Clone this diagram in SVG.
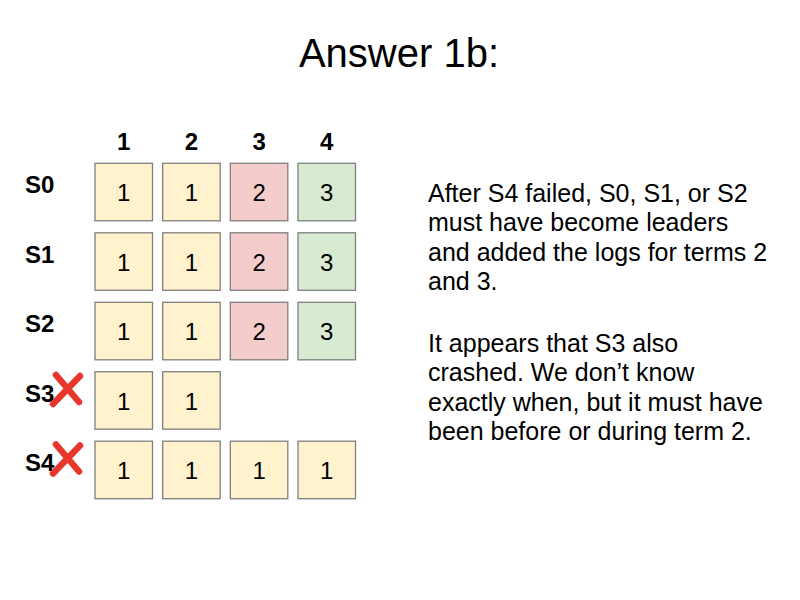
<svg xmlns="http://www.w3.org/2000/svg" width="800" height="600" viewBox="0 0 800 600">
<style>
text { font-family: "Liberation Sans", Arial, sans-serif; fill: #000; }
.title { font-size: 40px; text-anchor: middle; }
.hdr { font-size: 24px; font-weight: bold; text-anchor: middle; }
.lbl { font-size: 24px; font-weight: bold; }
.cell { font-size: 24px; text-anchor: middle; }
.note { font-size: 25px; }
.box { stroke: #7f7f7f; stroke-width: 1.3; }
.y { fill: #fff2cc; }
.r { fill: #f4cccc; }
.g { fill: #d9ead3; }
.x { stroke: #e8372a; stroke-width: 6.5; stroke-linecap: round; fill: none; }
</style>
<rect width="800" height="600" fill="#ffffff"/>
<text class="title" x="399" y="67">Answer 1b:</text>

<g id="headers">
<text class="hdr" x="123.8" y="150">1</text>
<text class="hdr" x="191.5" y="150">2</text>
<text class="hdr" x="259.1" y="150">3</text>
<text class="hdr" x="326.8" y="150">4</text>
</g>

<g id="row-S0">
<text class="lbl" x="25" y="193">S0</text>
<rect class="box y" x="95" y="163.3" width="57.5" height="57.5"/><text class="cell" x="123.8" y="201">1</text>
<rect class="box y" x="162.7" y="163.3" width="57.5" height="57.5"/><text class="cell" x="191.5" y="201">1</text>
<rect class="box r" x="230.3" y="163.3" width="57.5" height="57.5"/><text class="cell" x="259.1" y="201">2</text>
<rect class="box g" x="298" y="163.3" width="57.5" height="57.5"/><text class="cell" x="326.8" y="201">3</text>
</g>

<g id="row-S1">
<text class="lbl" x="25" y="262.5">S1</text>
<rect class="box y" x="95" y="232.8" width="57.5" height="57.5"/><text class="cell" x="123.8" y="270.5">1</text>
<rect class="box y" x="162.7" y="232.8" width="57.5" height="57.5"/><text class="cell" x="191.5" y="270.5">1</text>
<rect class="box r" x="230.3" y="232.8" width="57.5" height="57.5"/><text class="cell" x="259.1" y="270.5">2</text>
<rect class="box g" x="298" y="232.8" width="57.5" height="57.5"/><text class="cell" x="326.8" y="270.5">3</text>
</g>

<g id="row-S2">
<text class="lbl" x="25" y="332">S2</text>
<rect class="box y" x="95" y="302.3" width="57.5" height="57.5"/><text class="cell" x="123.8" y="340">1</text>
<rect class="box y" x="162.7" y="302.3" width="57.5" height="57.5"/><text class="cell" x="191.5" y="340">1</text>
<rect class="box r" x="230.3" y="302.3" width="57.5" height="57.5"/><text class="cell" x="259.1" y="340">2</text>
<rect class="box g" x="298" y="302.3" width="57.5" height="57.5"/><text class="cell" x="326.8" y="340">3</text>
</g>

<g id="row-S3">
<text class="lbl" x="25" y="401.5">S3</text>
<path class="x" d="M53 404 L80 376 M56 375 L79 402"/>
<rect class="box y" x="95" y="371.7" width="57.5" height="57.5"/><text class="cell" x="123.8" y="409.5">1</text>
<rect class="box y" x="162.7" y="371.7" width="57.5" height="57.5"/><text class="cell" x="191.5" y="409.5">1</text>
</g>

<g id="row-S4">
<text class="lbl" x="25" y="471">S4</text>
<path class="x" d="M53 473.5 L80 445.5 M56 444.5 L79 471.5"/>
<rect class="box y" x="95" y="441.2" width="57.5" height="57.5"/><text class="cell" x="123.8" y="479">1</text>
<rect class="box y" x="162.7" y="441.2" width="57.5" height="57.5"/><text class="cell" x="191.5" y="479">1</text>
<rect class="box y" x="230.3" y="441.2" width="57.5" height="57.5"/><text class="cell" x="259.1" y="479">1</text>
<rect class="box y" x="298" y="441.2" width="57.5" height="57.5"/><text class="cell" x="326.8" y="479">1</text>
</g>

<g id="notes">
<text class="note" x="428" y="201.5">After S4 failed, S0, S1, or S2</text>
<text class="note" x="428" y="231">must have become leaders</text>
<text class="note" x="428" y="260.5">and added the logs for terms 2</text>
<text class="note" x="428" y="290">and 3.</text>
<text class="note" x="428" y="351.5">It appears that S3 also</text>
<text class="note" x="428" y="381">crashed. We don’t know</text>
<text class="note" x="428" y="410.5">exactly when, but it must have</text>
<text class="note" x="428" y="440">been before or during term 2.</text>
</g>
</svg>
